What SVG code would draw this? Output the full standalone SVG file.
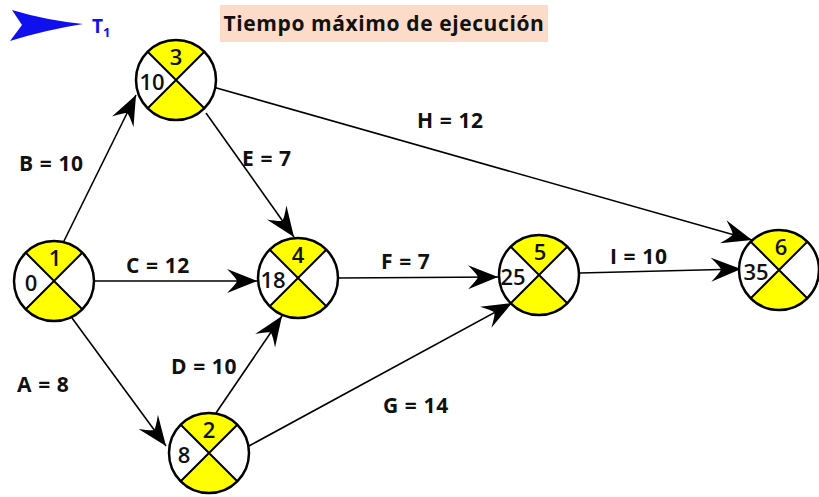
<svg xmlns="http://www.w3.org/2000/svg" width="819" height="497" viewBox="0 0 819 497">
<style>
.lbl{font-family:"Open Sans","Liberation Sans",sans-serif;font-weight:700;font-size:21px;letter-spacing:0.6px;fill:#111}
.num{font-family:"Open Sans","Liberation Sans",sans-serif;font-weight:600;font-size:22px;fill:#111}
.edge{stroke:#000;stroke-width:1.6;fill:none;marker-end:url(#ah)}
</style>
<defs>
<marker id="ah" viewBox="-30 -13 32 26" refX="0" refY="0" markerWidth="32" markerHeight="26" markerUnits="userSpaceOnUse" orient="auto">
<path d="M0,0 L-30,-12 Q-21,-3 -20,0 Q-21,3 -30,12 Z" fill="#000"/>
</marker>
<g id="nd">
<circle r="40" fill="#fff"/>
<path d="M0,0 L-28.28,-28.28 A40,40 0 0 1 28.28,-28.28 Z" fill="#ffff00"/>
<path d="M0,0 L28.28,28.28 A40,40 0 0 1 -28.28,28.28 Z" fill="#ffff00"/>
<path d="M-28.28,-28.28 L28.28,28.28 M28.28,-28.28 L-28.28,28.28" stroke="#000" stroke-width="2"/>
<circle r="40" fill="none" stroke="#000" stroke-width="2.5"/>
</g>
</defs>
<rect width="819" height="497" fill="#fff"/>
<g id="legend">
<path d="M12,10 Q45,20 83,24 Q45,30 10,41 L22,25 Z" fill="#1010ee"/>
<text x="92" y="33" font-family="Open Sans,Liberation Sans,sans-serif" font-weight="700" font-size="19" fill="#1010ee">T<tspan font-size="13" dy="4">1</tspan></text>
</g>
<g id="title">
<rect x="220" y="5" width="328" height="37" fill="#fcdcc8"/>
<text x="384" y="31" text-anchor="middle" class="lbl" font-size="23" letter-spacing="0.3">Tiempo máximo de ejecución</text>
</g>
<g id="connectors">
<line class="edge" x1="63" y1="243" x2="136" y2="95"/>
<line class="edge" x1="213" y1="87" x2="752" y2="240"/>
<line class="edge" x1="206" y1="113" x2="294" y2="237"/>
<line class="edge" x1="95" y1="281" x2="257" y2="281"/>
<line class="edge" x1="338" y1="278" x2="498" y2="277"/>
<line class="edge" x1="580" y1="273" x2="741" y2="269"/>
<line class="edge" x1="72" y1="318" x2="166" y2="446"/>
<line class="edge" x1="216" y1="413" x2="282" y2="316"/>
<line class="edge" x1="249" y1="446" x2="512" y2="303"/>
<text class="lbl" x="19" y="171">B = 10</text>
<text class="lbl" x="126" y="273">C = 12</text>
<text class="lbl" x="242" y="166">E = 7</text>
<text class="lbl" x="417" y="128">H = 12</text>
<text class="lbl" x="381" y="269">F = 7</text>
<text class="lbl" x="610" y="264">I = 10</text>
<text class="lbl" x="17" y="392">A = 8</text>
<text class="lbl" x="171" y="374">D = 10</text>
<text class="lbl" x="383" y="413">G = 14</text>
</g>
<g id="node1"><use href="#nd" x="54" y="281"/><text class="num" x="55" y="266" text-anchor="middle">1</text><text class="num" x="31" y="291" text-anchor="middle">0</text></g>
<g id="node3"><use href="#nd" x="176" y="80"/><text class="num" x="176" y="65" text-anchor="middle">3</text><text class="num" x="152" y="90" text-anchor="middle">10</text></g>
<g id="node4"><use href="#nd" x="298" y="278"/><text class="num" x="298" y="263" text-anchor="middle">4</text><text class="num" x="273" y="288" text-anchor="middle">18</text></g>
<g id="node5"><use href="#nd" x="539" y="275"/><text class="num" x="540" y="260" text-anchor="middle">5</text><text class="num" x="513" y="285" text-anchor="middle">25</text></g>
<g id="node6"><use href="#nd" x="779" y="270"/><text class="num" x="781" y="255" text-anchor="middle">6</text><text class="num" x="756" y="280" text-anchor="middle">35</text></g>
<g id="node2"><use href="#nd" x="209" y="453"/><text class="num" x="209" y="438" text-anchor="middle">2</text><text class="num" x="184" y="463" text-anchor="middle">8</text></g>
</svg>
